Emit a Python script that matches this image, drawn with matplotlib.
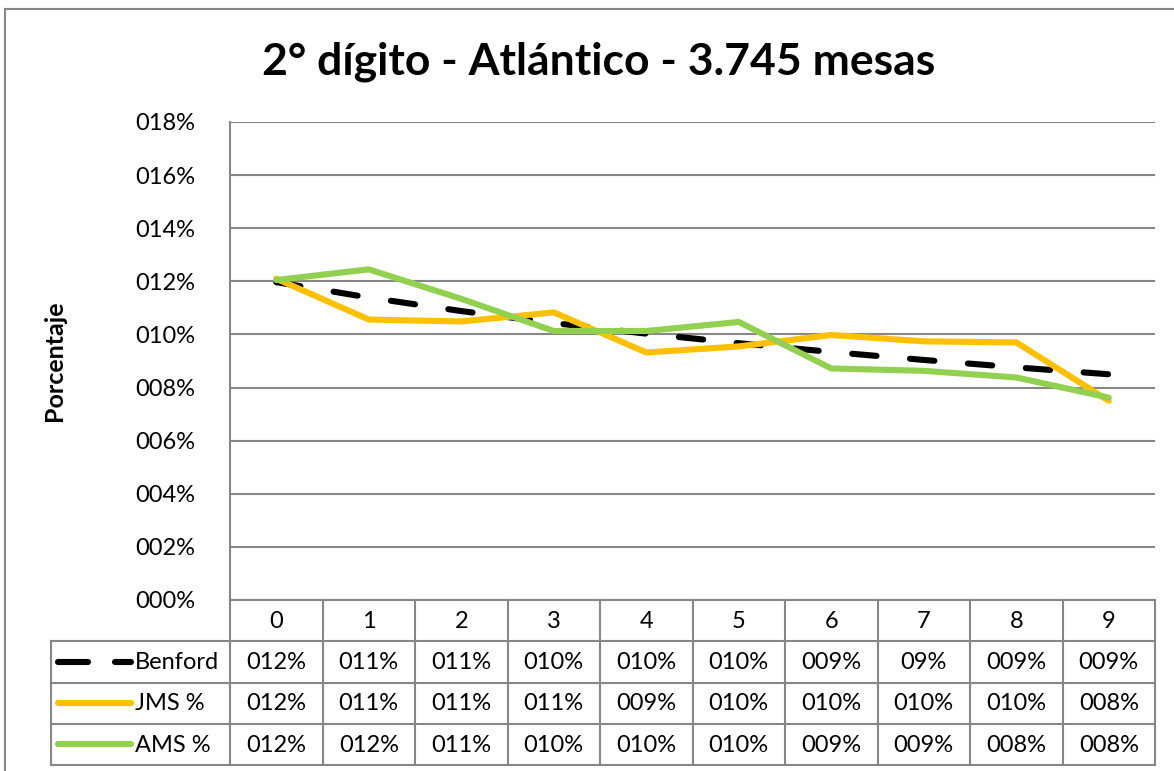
import matplotlib.pyplot as plt
from matplotlib.lines import Line2D

plt.rcParams['font.family'] = ['Lato', 'DejaVu Sans']

digits = ['0', '1', '2', '3', '4', '5', '6', '7', '8', '9']
benford = [11.97, 11.39, 10.88, 10.43, 10.03, 9.67, 9.34, 9.04, 8.76, 8.50]
jms = [12.10, 10.56, 10.49, 10.83, 9.32, 9.55, 9.98, 9.74, 9.70, 7.50]
ams = [12.05, 12.45, 11.34, 10.13, 10.13, 10.47, 8.72, 8.63, 8.38, 7.62]

benford_txt = ['012%', '011%', '011%', '010%', '010%', '010%', '009%', '09%', '009%', '009%']
jms_txt = ['012%', '011%', '011%', '011%', '009%', '010%', '010%', '010%', '010%', '008%']
ams_txt = ['012%', '012%', '011%', '010%', '010%', '010%', '009%', '009%', '008%', '008%']

yticks = [0, 2, 4, 6, 8, 10, 12, 14, 16, 18]
ytick_txt = ['000%', '002%', '004%', '006%', '008%', '010%', '012%', '014%', '016%', '018%']

W, H = 1174, 771
GRID = '#878787'
ORANGE = '#FFC000'
GREEN = '#92D050'
FS = 17

fig = plt.figure(figsize=(W / 100, H / 100), dpi=100)

# outer chart frame
fig.add_artist(Line2D([5 / W, 5 / W], [0, 1 - 9 / H], transform=fig.transFigure, color=GRID, lw=1.5))
fig.add_artist(Line2D([5 / W, 1], [1 - 9 / H, 1 - 9 / H], transform=fig.transFigure, color=GRID, lw=1.5))

L, R, T, B = 230, 1155, 122, 600
ax = fig.add_axes([L / W, 1 - B / H, (R - L) / W, (B - T) / H])
x = list(range(len(digits)))
ax.plot(x, benford, color='black', lw=4.4, dashes=(4, 5.5), dash_capstyle='round', zorder=3)
ax.plot(x, jms, color=ORANGE, lw=4.4, solid_capstyle='round', zorder=4)
ax.plot(x, ams, color=GREEN, lw=4.4, solid_capstyle='round', zorder=5)
ax.set_xlim(-0.5, 9.5)
ax.set_ylim(0, 18)
ax.set_yticks(yticks)
ax.set_yticklabels(ytick_txt, fontsize=FS)
ax.set_xticks([])
ax.tick_params(axis='y', length=0, pad=25)
ax.grid(axis='y', color=GRID, lw=1.5)
ax.set_axisbelow(True)
for s in ['top', 'right', 'bottom']:
    ax.spines[s].set_visible(False)
ax.spines['left'].set_color(GRID)
ax.spines['left'].set_linewidth(1.5)
ax.set_ylabel('Porcentaje', fontsize=18, fontweight='bold', labelpad=0)
ax.yaxis.set_label_coords(-164 / (R - L), 0.5)

fig.text(599 / W, 1 - 62 / H, '2° dígito - Atlántico - 3.745 mesas',
         ha='center', va='center', fontsize=32, fontweight='bold')

# data table below the plot, same x scale
TB = 765
tab = fig.add_axes([L / W, 1 - TB / H, (R - L) / W, (TB - B) / H])
tab.set_xlim(-0.5, 9.5)
tab.set_ylim(4, 0)
tab.axis('off')
left_x = -0.5 - (L - 51) / 92.5
kw = dict(color=GRID, lw=1.5, clip_on=False)
tab.plot([-0.5, 9.5], [0, 0], **kw)
for r in [1, 2, 3, 4]:
    tab.plot([left_x, 9.5], [r, r], **kw)
tab.plot([left_x, left_x], [1, 4], **kw)
for c in range(11):
    tab.plot([c - 0.5, c - 0.5], [0, 4], **kw)

for i, d in enumerate(digits):
    tab.text(i, 0.52, d, ha='center', va='center', fontsize=FS)
rows = [benford_txt, jms_txt, ams_txt]
for r, vals in enumerate(rows):
    for i, v in enumerate(vals):
        tab.text(i, r + 1.52, v, ha='center', va='center', fontsize=FS)

# legend keys in the table
key_x0 = left_x + 7 / 92.5
key_x1 = left_x + 80 / 92.5
tab.plot([key_x0, key_x0 + 30 / 92.5], [1.5, 1.5], color='black', lw=4.4, solid_capstyle='round', clip_on=False)
tab.plot([key_x1 - 16 / 92.5, key_x1], [1.5, 1.5], color='black', lw=4.4, solid_capstyle='round', clip_on=False)
tab.plot([key_x0, key_x1], [2.5, 2.5], color=ORANGE, lw=4.4, solid_capstyle='round', clip_on=False)
tab.plot([key_x0, key_x1], [3.5, 3.5], color=GREEN, lw=4.4, solid_capstyle='round', clip_on=False)
names = ['Benford', 'JMS %', 'AMS %']
for r, n in enumerate(names):
    tab.text(key_x1 + 4 / 92.5, r + 1.52, n, ha='left', va='center', fontsize=FS)

fig.savefig('out.png', dpi=100)
